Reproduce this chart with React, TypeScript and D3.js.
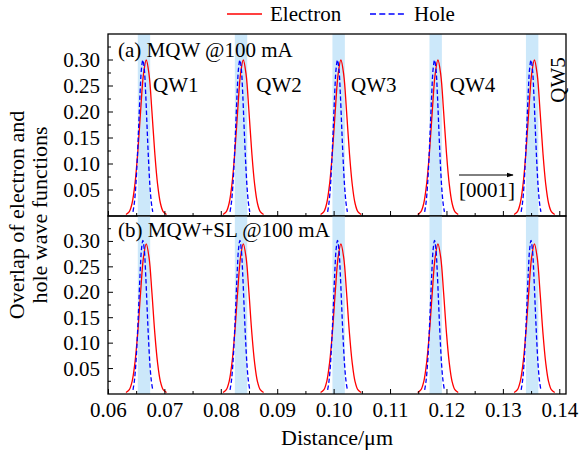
import React from "react";
import * as d3 from "d3";

// ---- data ----
const wellCenters = [0.0663, 0.0835, 0.1008, 0.118, 0.1351];
const wellWidth = 0.0022;
const wellLabels = ["QW1", "QW2", "QW3", "QW4"];
const wellLabelX = [0.0679, 0.0862, 0.103, 0.1205];

// electron overlap profile: offset from well centre (µm) and value
const electronOffset = [-0.0032, -0.0026, -0.0021, -0.0016, -0.0011, -0.0006, -0.0001, 0.0004, 0.0009, 0.0014, 0.0019, 0.0024, 0.0029, 0.0034, 0.004];
const electronTop = [0.003, 0.0085, 0.025, 0.062, 0.123, 0.202, 0.272, 0.3, 0.272, 0.202, 0.123, 0.062, 0.025, 0.0085, 0.003];
const electronBottom = [0.003, 0.0085, 0.025, 0.062, 0.122, 0.2, 0.268, 0.295, 0.268, 0.2, 0.122, 0.062, 0.025, 0.0085, 0.003];

// hole overlap profile
const holeOffset = [-0.00195, -0.0017, -0.00145, -0.0012, -0.00095, -0.0007, -0.00045, -0.0002, 0.00005, 0.0003, 0.00055, 0.0008, 0.00105, 0.0013, 0.00155];
const holeTop = [0.008, 0.026, 0.058, 0.108, 0.17, 0.235, 0.283, 0.3, 0.283, 0.235, 0.17, 0.108, 0.058, 0.026, 0.008];
const holeBottom = [0.008, 0.026, 0.058, 0.108, 0.17, 0.235, 0.284, 0.302, 0.284, 0.235, 0.17, 0.108, 0.058, 0.026, 0.008];

const xTicksMajor = [0.06, 0.07, 0.08, 0.09, 0.1, 0.11, 0.12, 0.13, 0.14];
const xTicksMinor = [0.065, 0.075, 0.085, 0.095, 0.105, 0.115, 0.125, 0.135];
const yTicksMajor = [0.05, 0.1, 0.15, 0.2, 0.25, 0.3];
const yTicksMinor = [0.025, 0.075, 0.125, 0.175, 0.225, 0.275, 0.325];

const FONT = "'Liberation Serif', 'Times New Roman', serif";

const W = 581, H = 452;
const left = 108, right = 566;
const panels = [
  { top: 34, bottom: 216, electron: electronTop, hole: holeTop, label: "(a) MQW @100 mA", labelY: 57, showX: false },
  { top: 216, bottom: 394, electron: electronBottom, hole: holeBottom, label: "(b) MQW+SL @100 mA", labelY: 237, showX: true },
];

const x = d3.scaleLinear().domain([0.05992, 0.1411]).range([left, right]);

export default function App() {
  React.useEffect(() => {
    document.body.style.margin = "0";
  }, []);

  return (
    <svg width={W} height={H} style={{ position: "absolute", left: 0, top: 0, background: "#fff" }} fontFamily={FONT}>
      <defs>
        <marker id="arr" viewBox="0 0 10 10" refX="9" refY="5" markerWidth="7" markerHeight="7" orient="auto" markerUnits="userSpaceOnUse">
          <path d="M0,1.5 L10,5 L0,8.5 Z" fill="#000" />
        </marker>
        {panels.map((p, i) => (
          <clipPath id={`clip${i}`} key={i}>
            <rect x={left} y={p.top} width={right - left} height={p.bottom - p.top} />
          </clipPath>
        ))}
      </defs>

      {/* legend */}
      <line x1={227} x2={262} y1={14} y2={14} stroke="#ff0000" strokeWidth={1.3} />
      <text x={270} y={21} fontSize={21}>Electron</text>
      <line x1={370} x2={407} y1={14} y2={14} stroke="#0000ff" strokeWidth={1.3} strokeDasharray="6,3.3" />
      <text x={414} y={21} fontSize={21}>Hole</text>

      {panels.map((p, i) => {
        const y = d3.scaleLinear().domain([0, 0.35]).range([p.bottom, p.top]);
        const line = d3
          .line<number>()
          .curve(d3.curveCatmullRom)
          .x((d) => x(d[0]))
          .y((d) => y(d[1]));
        return (
          <g key={i}>
            <g clipPath={`url(#clip${i})`}>
              {wellCenters.map((c, k) => (
                <rect key={k} x={x(c - wellWidth / 2)} y={p.top} width={x(c + wellWidth / 2) - x(c - wellWidth / 2)} height={p.bottom - p.top} fill="#cce8fa" />
              ))}
              {wellCenters.map((c, k) => (
                <path key={"e" + k} d={line(electronOffset.map((o, j) => [c + o, p.electron[j]]) as any) || ""} fill="none" stroke="#ff0000" strokeWidth={1.3} />
              ))}
              {wellCenters.map((c, k) => (
                <path key={"h" + k} d={line(holeOffset.map((o, j) => [c + o, p.hole[j]]) as any) || ""} fill="none" stroke="#0000ff" strokeWidth={1.3} strokeDasharray="4.5,2.5" />
              ))}
            </g>
            {/* ticks */}
            {xTicksMajor.map((t) => (
              <line key={"xm" + t} x1={x(t)} x2={x(t)} y1={p.bottom} y2={p.bottom - 5} stroke="#000" strokeWidth={1} />
            ))}
            {xTicksMinor.map((t) => (
              <line key={"xn" + t} x1={x(t)} x2={x(t)} y1={p.bottom} y2={p.bottom - 3} stroke="#000" strokeWidth={1} />
            ))}
            {yTicksMajor.map((t) => (
              <line key={"ym" + t} x1={left} x2={left + 5} y1={y(t)} y2={y(t)} stroke="#000" strokeWidth={1} />
            ))}
            {yTicksMinor.map((t) => (
              <line key={"yn" + t} x1={left} x2={left + 3} y1={y(t)} y2={y(t)} stroke="#000" strokeWidth={1} />
            ))}
            {yTicksMajor.map((t) => (
              <text key={"yl" + t} x={100} y={y(t) + 7} fontSize={21} textAnchor="end">
                {t.toFixed(2)}
              </text>
            ))}
            {p.showX &&
              xTicksMajor.map((t) => (
                <text key={"xl" + t} x={x(t)} y={417} fontSize={21} textAnchor="middle">
                  {t.toFixed(2)}
                </text>
              ))}
            <rect x={left} y={p.top} width={right - left} height={p.bottom - p.top} fill="none" stroke="#000" strokeWidth={1.3} />
            <text x={118} y={p.labelY} fontSize={21}>{p.label}</text>
            {i === 0 && (
              <g>
                {wellLabels.map((l, k) => (
                  <text key={l} x={x(wellLabelX[k])} y={92} fontSize={21}>{l}</text>
                ))}
                <text transform={`translate(565,80) rotate(-90)`} fontSize={21} textAnchor="middle">QW5</text>
                <line x1={459} x2={513} y1={175} y2={175} stroke="#000" strokeWidth={1} markerEnd="url(#arr)" />
                <text x={459} y={197} fontSize={21}>[0001]</text>
              </g>
            )}
          </g>
        );
      })}

      {/* axis titles */}
      <text x={337} y={445} fontSize={22} textAnchor="middle">Distance/μm</text>
      <text transform="translate(24,215) rotate(-90)" fontSize={22} textAnchor="middle">Overlap of electron and</text>
      <text transform="translate(47,215) rotate(-90)" fontSize={22} textAnchor="middle">hole wave functions</text>
    </svg>
  );
}
